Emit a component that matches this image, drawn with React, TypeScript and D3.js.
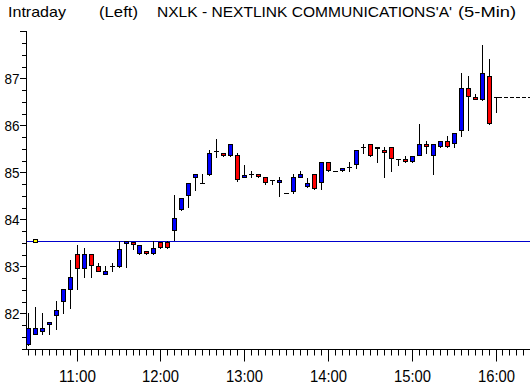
import React from "react";
import * as d3 from "d3";

const W = 530;
const H = 385;

const opens = [81.34, 81.57, 81.63, 81.77, 81.96, 82.27, 82.52, 83.26, 82.96, 83.26, 83.0, 82.84, 83.0, 83.01, 83.5, 83.51, 83.28, 83.32, 83.28, 83.51, 83.51, 83.78, 84.21, 84.52, 84.89, 84.77, 84.96, 85.46, 85.4, 85.36, 85.36, 84.9, 84.96, 84.96, 84.9, 84.83, 84.79, 84.57, 84.6, 84.91, 84.71, 84.96, 84.79, 85.21, 85.02, 85.04, 85.11, 85.17, 85.53, 85.6, 85.53, 85.47, 85.53, 85.28, 85.28, 85.23, 85.36, 85.6, 85.36, 85.55, 85.66, 85.62, 85.91, 86.79, 86.6, 86.55, 87.04, 86.6];
const highs = [82.0, 82.14, 82.0, 81.82, 82.26, 82.51, 83.13, 83.46, 83.38, 83.26, 83.06, 83.0, 83.06, 83.54, 83.53, 83.52, 83.45, 83.32, 83.53, 83.52, 83.53, 84.52, 84.45, 84.77, 84.96, 84.96, 85.47, 85.71, 85.4, 85.6, 85.4, 85.16, 85.02, 84.96, 84.9, 84.83, 84.89, 84.57, 84.96, 85.02, 84.87, 84.96, 85.21, 85.21, 85.02, 85.09, 85.21, 85.47, 85.6, 85.6, 85.53, 85.53, 85.53, 85.28, 85.34, 85.34, 86.03, 85.66, 85.6, 85.66, 85.77, 85.83, 87.11, 87.04, 86.66, 87.71, 87.41, 86.6];
const lows = [81.33, 81.55, 81.55, 81.55, 81.67, 82.0, 82.12, 82.51, 82.77, 82.77, 82.89, 82.83, 82.89, 82.99, 82.99, 83.37, 83.26, 83.26, 83.26, 83.38, 83.38, 83.57, 84.19, 84.26, 84.62, 84.77, 84.94, 85.33, 85.34, 85.34, 84.82, 84.89, 84.91, 84.9, 84.76, 84.76, 84.5, 84.57, 84.57, 84.89, 84.69, 84.64, 84.64, 85.02, 85.02, 85.02, 85.02, 85.09, 85.4, 85.34, 85.21, 84.91, 85.02, 85.15, 85.21, 85.21, 85.36, 85.4, 84.96, 85.53, 85.53, 85.53, 85.77, 85.91, 86.55, 86.53, 86.02, 86.28];
const closes = [81.68, 81.68, 81.68, 81.81, 82.06, 82.51, 82.77, 82.96, 83.26, 83.02, 82.91, 82.89, 83.0, 83.37, 83.53, 83.47, 83.45, 83.28, 83.38, 83.4, 83.4, 84.02, 84.45, 84.77, 84.96, 84.77, 85.4, 85.46, 85.36, 85.6, 84.85, 84.94, 84.96, 84.92, 84.79, 84.83, 84.83, 84.57, 84.89, 84.96, 84.77, 84.66, 85.21, 85.04, 85.02, 85.09, 85.11, 85.47, 85.53, 85.36, 85.51, 85.43, 85.3, 85.28, 85.23, 85.34, 85.6, 85.55, 85.6, 85.66, 85.55, 85.83, 86.79, 86.62, 86.55, 87.11, 86.04, 86.6];

const prevClose = 83.53;
const lastPrice = 86.6;
const yTickLabels = [82, 83, 84, 85, 86, 87];
const hourLabels = ["11:00", "12:00", "13:00", "14:00", "15:00", "16:00"];
const hourIndex = [7, 19, 31, 43, 55, 67];

const x = d3.scaleLinear().domain([0, 67]).range([27.8, 495.5]);
const y = d3.scaleLinear().domain([83, 87]).range([266.3, 78.3]);

const px = (v: number) => Math.round(v);

export default function App() {
  const axisX = 26.5;
  const axisY = 349.5;
  const minorY = d3.range(81.25, 88.01, 0.25);
  const xTickIdx = d3.range(0, 72);
  const hourSet = new Set(hourIndex);
  const font = "'Liberation Sans', Arial, sans-serif";

  return (
    <svg width={W} height={H} style={{ position: "absolute", left: 0, top: 0, background: "#fff" }}>
      <rect x={0} y={0} width={W} height={H} fill="#fff" />
      {/* title */}
      <g fontFamily={font} fontSize={15} fill="#000">
        <text x={8} y={16.5} textLength={58} lengthAdjust="spacingAndGlyphs">Intraday</text>
        <text x={99} y={16.5} textLength={39} lengthAdjust="spacingAndGlyphs">(Left)</text>
        <text x={157} y={16.5} textLength={295} lengthAdjust="spacingAndGlyphs">NXLK - NEXTLINK COMMUNICATIONS'A'</text>
        <text x={458} y={16.5} textLength={58} lengthAdjust="spacingAndGlyphs">(5-Min)</text>
      </g>

      {/* previous close line */}
      <line x1={26} x2={530} y1={px(y(prevClose)) + 0.5} y2={px(y(prevClose)) + 0.5} stroke="#0000cc" strokeWidth={1} />

      {/* y axis */}
      <line x1={axisX} x2={axisX} y1={31} y2={axisY + 0.5} stroke="#000" strokeWidth={1} />
      {minorY.map((v) => {
        const major = Math.abs(v - Math.round(v)) < 1e-6;
        const yy = px(y(v)) + 0.5;
        return <line key={v} x1={major ? 20 : 22} x2={axisX} y1={yy} y2={yy} stroke="#000" strokeWidth={1} />;
      })}
      {yTickLabels.map((v) => (
        <text key={v} x={19.5} y={px(y(v)) + 6} textAnchor="end" fontFamily={font} fontSize={15} textLength={15} lengthAdjust="spacingAndGlyphs">{v}</text>
      ))}

      {/* x axis */}
      <line x1={axisX - 4} x2={530} y1={axisY} y2={axisY} stroke="#000" strokeWidth={1} />
      {xTickIdx.map((i) => {
        const xx = px(x(i)) + 0.5;
        const major = hourSet.has(i);
        return <line key={i} x1={xx} x2={xx} y1={axisY} y2={axisY + (major ? 12 : 6)} stroke="#000" strokeWidth={1} />;
      })}
      {hourLabels.map((lab, k) => (
        <text key={lab} x={px(x(hourIndex[k])) + 0.5} y={382} textAnchor="middle" fontFamily={font} fontSize={16} textLength={37} lengthAdjust="spacingAndGlyphs">{lab}</text>
      ))}

      {/* candles */}
      {opens.map((o, i) => {
        const c = closes[i];
        const h = highs[i];
        const l = lows[i];
        const cx = px(x(i));
        const yh = px(y(h));
        const yl = px(y(l));
        const yTop = px(y(Math.max(o, c)));
        const yBot = px(y(Math.min(o, c)));
        const up = c >= o;
        const wick = (
          <line x1={cx + 0.5} x2={cx + 0.5} y1={yh} y2={yl + 1} stroke="#000" strokeWidth={1} />
        );
        if (yBot - yTop < 1) {
          return (
            <g key={i}>
              {wick}
              <line x1={cx - 2} x2={cx + 3} y1={yTop + 0.5} y2={yTop + 0.5} stroke="#000" strokeWidth={1} />
            </g>
          );
        }
        return (
          <g key={i}>
            {wick}
            <rect x={cx - 1.5} y={yTop + 0.5} width={4} height={yBot - yTop} fill={up ? "#0000ff" : "#ff0000"} stroke="#000" strokeWidth={1} />
          </g>
        );
      })}

      {/* prev close marker */}
      <rect x={px(x(1)) - 1.5} y={px(y(prevClose)) - 1.5} width={4} height={3} fill="#ffff00" stroke="#000" strokeWidth={1} />

      {/* last price dashed line */}
      <line x1={px(x(67)) + 2} x2={530} y1={px(y(lastPrice)) + 0.5} y2={px(y(lastPrice)) + 0.5} stroke="#000" strokeWidth={1} strokeDasharray="4,2" />
    </svg>
  );
}
